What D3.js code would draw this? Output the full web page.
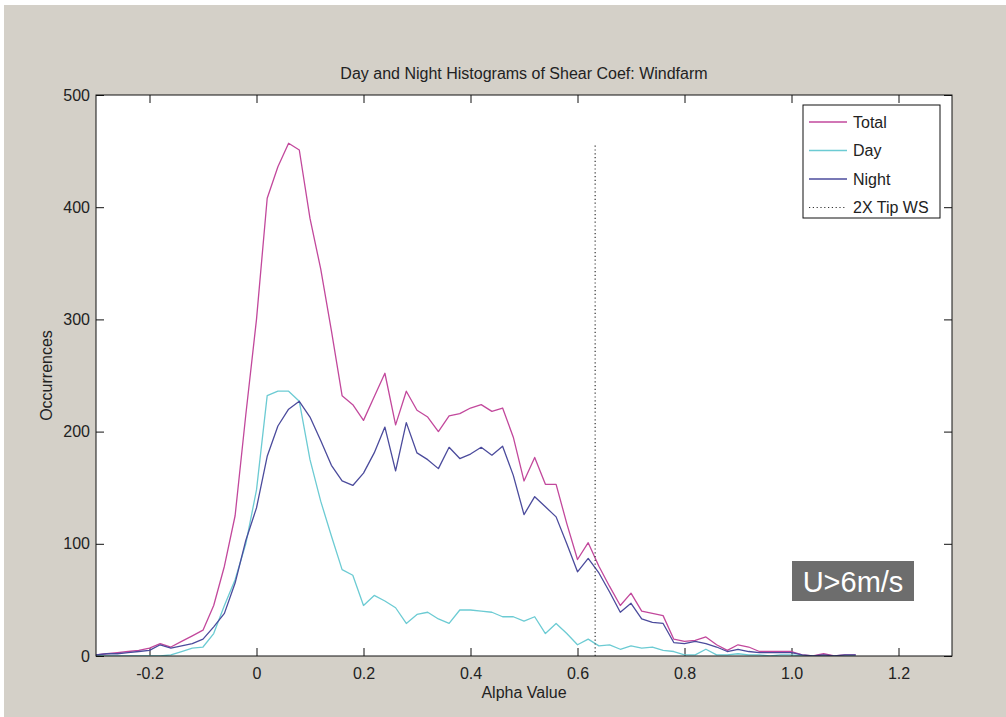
<!DOCTYPE html>
<html>
  <head>
    <meta charset="UTF-8" />
    <script src="https://d3js.org/d3.v7.min.js"></script>
    <style>
      body { margin: 0; background: #ffffff; }
      text { font-family: "Liberation Sans", Arial, sans-serif; }
    </style>
  </head>
  <body>
    <div id="my_dataviz"></div>

    <script>
      // bin centres of the shear coefficient histogram
      const alpha = [
        -0.30, -0.28, -0.26, -0.24, -0.22, -0.20, -0.18, -0.16, -0.14, -0.12,
        -0.10, -0.08, -0.06, -0.04, -0.02, 0.00, 0.02, 0.04, 0.06, 0.08,
        0.10, 0.12, 0.14, 0.16, 0.18, 0.20, 0.22, 0.24, 0.26, 0.28,
        0.30, 0.32, 0.34, 0.36, 0.38, 0.40, 0.42, 0.44, 0.46, 0.48,
        0.50, 0.52, 0.54, 0.56, 0.58, 0.60, 0.62, 0.64, 0.66, 0.68,
        0.70, 0.72, 0.74, 0.76, 0.78, 0.80, 0.82, 0.84, 0.86, 0.88,
        0.90, 0.92, 0.94, 0.96, 0.98, 1.00, 1.02, 1.04, 1.06, 1.08,
        1.10, 1.12
      ];
      const totalCounts = [
        1, 2, 3, 4, 5, 7, 11, 8, 13, 18,
        23, 45, 80, 125, 215, 300, 408, 436, 457, 451,
        390, 345, 290, 232, 224, 210, 231, 252, 206, 236,
        219, 213, 200, 214, 216, 221, 224, 218, 221, 195,
        156, 177, 153, 153, 118, 86, 101, 80, 62, 45,
        56, 40, 38, 36, 15, 13, 14, 17, 10, 5,
        10, 8, 4, 4, 4, 4, 1, 0, 2, 0,
        1, 1
      ];
      const dayCounts = [
        0, 0, 0, 0, 0, 0, 0, 1, 4, 7,
        8, 20, 45, 68, 100, 148, 232, 236, 236, 227,
        175, 138, 107, 77, 72, 45, 54, 49, 43, 29,
        37, 39, 33, 29, 41, 41, 40, 39, 35, 35,
        31, 35, 20, 29, 20, 10, 15, 9, 10, 6,
        9, 7, 8, 5, 4, 1, 1, 6, 1, 1,
        2, 1, 1, 0, 1, 1, 0, 0, 0, 0,
        0, 0
      ];
      const nightCounts = [
        1, 2, 2, 3, 4, 5, 10, 7, 9, 11,
        15, 26, 38, 65, 103, 132, 178, 205, 220, 227,
        213, 192, 170, 156, 152, 163, 181, 204, 165, 208,
        181, 175, 167, 186, 176, 180, 186, 179, 187, 161,
        126, 142, 133, 124, 100, 75, 87, 74, 57, 39,
        47, 33, 30, 29, 12, 11, 13, 11, 8, 4,
        6, 4, 3, 3, 3, 3, 1, 0, 1, 0,
        1, 1
      ];
      const tipWS = 0.633;        // 2X tip wind speed marker
      const tipWSTop = 455;
      const xTicks = [-0.2, 0, 0.2, 0.4, 0.6, 0.8, 1.0, 1.2];
      const xTickLabels = ["-0.2", "0", "0.2", "0.4", "0.6", "0.8", "1.0", "1.2"];
      const yTicks = [0, 100, 200, 300, 400, 500];
      const legendLabels = ["Total", "Day", "Night", "2X Tip WS"];

      var margin = { top: 95, right: 54, bottom: 61, left: 96 },
        width = 1006 - margin.left - margin.right,
        height = 717 - margin.top - margin.bottom;

      var colors = { Total: "#c2489c", Day: "#6ccbd3", Night: "#4b4b9c" };

      var svg = d3
        .select("#my_dataviz")
        .append("svg")
        .attr("width", 1006)
        .attr("height", 717);

      // grey figure background (white strip at top/left like the screenshot)
      svg.append("rect")
        .attr("x", 4).attr("y", 5)
        .attr("width", 1002).attr("height", 712)
        .attr("fill", "#d4d0c8");

      var g = svg.append("g")
        .attr("transform", "translate(" + margin.left + "," + margin.top + ")");

      g.append("rect")
        .attr("width", width).attr("height", height)
        .attr("fill", "#ffffff");

      var xScale = d3.scaleLinear().domain([-0.3, 1.3]).range([0, width]);
      var yScale = d3.scaleLinear().domain([0, 500]).range([height, 0]);

      // axes, ticks pointing inward on all four sides
      var xAxis = g.append("g")
        .attr("transform", "translate(0," + height + ")")
        .call(d3.axisBottom(xScale).tickValues(xTicks)
          .tickFormat((d, i) => xTickLabels[i])
          .tickSizeInner(-8).tickSizeOuter(0).tickPadding(12));
      g.append("g")
        .call(d3.axisTop(xScale).tickValues(xTicks).tickFormat("")
          .tickSizeInner(-8).tickSizeOuter(0));
      var yAxis = g.append("g")
        .call(d3.axisLeft(yScale).tickValues(yTicks)
          .tickSizeInner(-8).tickSizeOuter(0).tickPadding(6));
      g.append("g")
        .attr("transform", "translate(" + width + ",0)")
        .call(d3.axisRight(yScale).tickValues(yTicks).tickFormat("")
          .tickSizeInner(-8).tickSizeOuter(0));

      g.selectAll(".domain").remove();
      g.selectAll(".tick line").attr("stroke", "#111");
      g.selectAll(".tick text")
        .attr("font-size", 16)
        .attr("font-family", "Liberation Sans, Arial, sans-serif")
        .attr("fill", "#222");

      // series lines
      var series = [
        { name: "Total", values: totalCounts },
        { name: "Day", values: dayCounts },
        { name: "Night", values: nightCounts }
      ];

      let linearGenerator = d3
        .line()
        .x((d, i) => xScale(alpha[i]))
        .y((d) => yScale(d));

      g.append("defs").append("clipPath").attr("id", "plotclip")
        .append("rect").attr("width", width).attr("height", height);

      g.append("g")
        .attr("clip-path", "url(#plotclip)")
        .selectAll("path")
        .data(series)
        .join("path")
        .attr("fill", "none")
        .attr("stroke", (d) => colors[d.name])
        .attr("stroke-width", 1.3)
        .attr("stroke-linejoin", "round")
        .attr("d", (d) => linearGenerator(d.values));

      // dotted marker
      g.append("line")
        .attr("x1", xScale(tipWS)).attr("x2", xScale(tipWS))
        .attr("y1", yScale(0)).attr("y2", yScale(tipWSTop))
        .attr("stroke", "#333")
        .attr("stroke-width", 1.2)
        .attr("stroke-dasharray", "1.2,2.6");

      // plot frame
      g.append("rect")
        .attr("width", width).attr("height", height)
        .attr("fill", "none")
        .attr("stroke", "#111")
        .attr("stroke-width", 1);

      // titles
      svg.append("text")
        .attr("x", margin.left + width / 2).attr("y", 79)
        .attr("text-anchor", "middle")
        .attr("font-size", 16).attr("fill", "#222")
        .text("Day and Night Histograms of Shear Coef: Windfarm");
      svg.append("text")
        .attr("x", margin.left + width / 2).attr("y", 698)
        .attr("text-anchor", "middle")
        .attr("font-size", 16).attr("fill", "#222")
        .text("Alpha Value");
      svg.append("text")
        .attr("transform", "translate(52," + (margin.top + height / 2) + ") rotate(-90)")
        .attr("text-anchor", "middle")
        .attr("font-size", 16).attr("fill", "#222")
        .text("Occurrences");

      // legend
      var legend = g.append("g").attr("transform", "translate(707,10)");
      legend.append("rect")
        .attr("width", 137).attr("height", 113)
        .attr("fill", "#ffffff").attr("stroke", "#111");
      var items = legend.selectAll(".item")
        .data(legendLabels)
        .join("g")
        .attr("transform", (d, i) => "translate(0," + (17 + i * 28.5) + ")");
      items.append("line")
        .attr("x1", 6).attr("x2", 44)
        .attr("stroke", (d) => colors[d] || "#333")
        .attr("stroke-width", (d) => (colors[d] ? 1.3 : 1.2))
        .attr("stroke-dasharray", (d) => (colors[d] ? null : "1.2,2.6"));
      items.append("text")
        .attr("x", 50).attr("dy", "0.35em")
        .attr("font-size", 16).attr("fill", "#222")
        .text((d) => d);

      // wind-speed annotation
      svg.append("rect")
        .attr("x", 792).attr("y", 561)
        .attr("width", 122).attr("height", 40)
        .attr("fill", "#6d6d6d");
      svg.append("text")
        .attr("x", 853).attr("y", 592)
        .attr("text-anchor", "middle")
        .attr("font-family", "Lato, 'Open Sans', sans-serif")
        .attr("font-size", 29).attr("fill", "#ffffff")
        .text("U>6m/s");
    </script>
  </body>
</html>
